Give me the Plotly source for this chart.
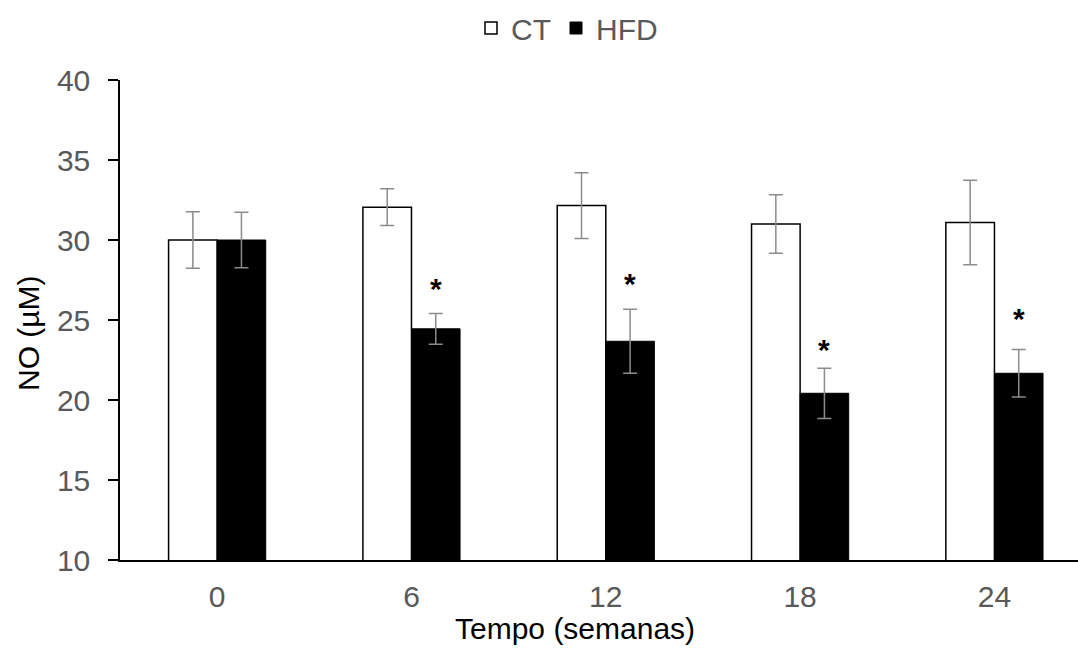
import plotly.graph_objects as go

weeks = ["0", "6", "12", "18", "24"]
ct = [30.0, 32.05, 32.15, 31.0, 31.1]
ct_err = [1.77, 1.15, 2.05, 1.83, 2.64]
hfd = [30.0, 24.45, 23.67, 20.42, 21.67]
hfd_err = [1.73, 0.96, 2.0, 1.57, 1.49]
star_y = [None, 27.3, 27.6, 23.5, 25.4]

FONT = "Liberation Sans, Arial, sans-serif"
GREY = "#595959"

fig = go.Figure()
fig.add_trace(go.Bar(
    name="CT", x=weeks, y=ct,
    marker=dict(color="white", line=dict(color="black", width=1.5)),
    error_y=dict(type="data", array=ct_err, color="#8c8c8c", thickness=1.5, width=7),
))
fig.add_trace(go.Bar(
    name="HFD", x=weeks, y=hfd,
    marker=dict(color="black", line=dict(color="black", width=1)),
    error_y=dict(type="data", array=hfd_err, color="#8c8c8c", thickness=1.5, width=7),
))

annotations = []
for i, (w, s) in enumerate(zip(weeks, star_y)):
    if s is None:
        continue
    annotations.append(dict(
        x=i + 0.125, y=s, xref="x", yref="y", text="<b>*</b>", showarrow=False,
        font=dict(family=FONT, size=30, color="black"), yanchor="middle", yshift=-5,
    ))
annotations.append(dict(
    x=575, y=628, xref="paper", yref="paper", text="Tempo (semanas)", showarrow=False,
    font=dict(family=FONT, size=30, color="black"), xanchor="center", yanchor="middle",
))
annotations.append(dict(
    x=28, y=333, xref="paper", yref="paper", text="NO (µM)", showarrow=False,
    textangle=-90, font=dict(family=FONT, size=30, color="black"),
    xanchor="center", yanchor="middle",
))

# convert pixel positions of titles to paper coords
W, H = 1078, 651
L, R, T, B = 120, 0, 80, 91
pw, ph = W - L - R, H - T - B
for a in annotations[-2:]:
    a["x"] = (a["x"] - L) / pw
    a["y"] = (H - B - a["y"]) / ph

fig.update_layout(
    width=W, height=H,
    margin=dict(l=L, r=R, t=T, b=B, pad=0),
    paper_bgcolor="white", plot_bgcolor="white",
    barmode="group", bargap=0.5, bargroupgap=0,
    font=dict(family=FONT, size=30, color=GREY),
    showlegend=True,
    legend=dict(orientation="h", x=(567 - L) / pw, xanchor="center",
                y=(H - B - 28) / ph, yanchor="middle",
                font=dict(family=FONT, size=30, color=GREY),
                bgcolor="rgba(0,0,0,0)", traceorder="normal"),
    annotations=annotations,
)
fig.update_xaxes(
    type="category", range=[-0.5, 4.43],
    showline=True, linecolor="black", linewidth=1.5, ticks="",
    showgrid=False, zeroline=False, ticklabelstandoff=9,
    tickfont=dict(family=FONT, size=30, color=GREY),
)
fig.update_yaxes(
    range=[10, 40], dtick=5, tick0=10,
    showline=True, linecolor="black", linewidth=1.5,
    ticks="outside", ticklen=10, tickwidth=1.5, tickcolor="black",
    showgrid=False, zeroline=False, ticklabelstandoff=12,
    tickfont=dict(family=FONT, size=30, color=GREY),
)

fig.write_html("out.html")
